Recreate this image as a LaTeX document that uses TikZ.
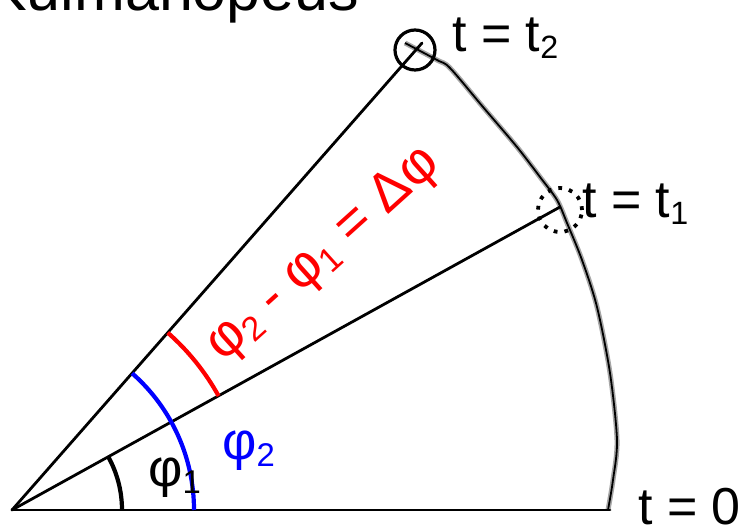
\documentclass[tikz,border=0pt]{standalone}
\usepackage{fontspec}
\setmainfont{Liberation Sans}
\usetikzlibrary{calc}

\newcommand{\lsub}[1]{\raisebox{-0.12em}{\scalebox{0.62}{#1}}}

\begin{document}
\begin{tikzpicture}[x=1pt,y=1pt,
  ray/.style={line width=2.8pt, line cap=round},
  anglearc/.style={line width=4.2pt},
  rim/.style={line width=1.8pt, preaction={draw, gray!70, line width=5pt}},
  tlabel/.style={font=\fontsize{52}{60}\selectfont, inner sep=0pt, anchor=base west}]
  \useasboundingbox (0,0) rectangle (749,527);
  \clip (0,0) rectangle (749,527);

  % Title (cut at the top)
  \node[font=\fontsize{61}{70}\selectfont, inner sep=0pt, anchor=base west] (title) at (-14,516) {Kulmanopeus};

  % Points
  \def\phione{28.9}
  \def\phitwo{48.7}
  \coordinate (O) at (12,17);
  \coordinate (P0) at (610,17);
  \coordinate (P1) at (560,320);
  \coordinate (P2) at (422,484);

  % Path of the moving point
  \draw[rim] plot[smooth] coordinates {(405,484) (437,467) (450,459) (483,420) (517,380) (540,350)
    (557,327) (567,304) (582,267) (597,220) (610,154) (617,87) (613,47) (608,17)};

  % Rays
  \draw[ray] (O) -- (P0);
  \draw[ray] (O) -- (P1);
  \draw[ray] (O) -- (P2);

  % Angle arcs
  \draw[anglearc] ($(O)+(110,0)$) arc[start angle=0, end angle=\phione, radius=110];
  \draw[anglearc, blue] ($(O)+(182,0)$) arc[start angle=0, end angle=\phitwo, radius=182];
  \draw[anglearc, red] ($(O)+(\phione:236)$) arc[start angle=\phione, end angle=\phitwo, radius=236];

  % Markers
  \node[draw, circle, minimum size=40, line width=3.2pt] (m2) at (415,477) {};
  \node[draw, circle, minimum size=44, line width=3.8pt, dash pattern=on 3.8pt off 7pt] (m1) at (560,317) {};

  % Labels
  \node[tlabel] (t2) at (452,475) {t = t\lsub{2}};
  \node[tlabel] (t1) at (582,309) {t = t\lsub{1}};
  \node[tlabel] (t0) at (638,2) {t = 0};
  \node[font=\fontsize{53}{60}\selectfont, inner sep=0pt, anchor=base west] (phi1) at (148,40) {φ\lsub{1}};
  \node[font=\fontsize{53}{60}\selectfont, inner sep=0pt, anchor=base west, blue] (phi2) at (222,67) {φ\lsub{2}};
  \node[font=\fontsize{55}{64}\selectfont, inner sep=0pt, red, rotate=42] (dphi) at (324,272) {φ\lsub{2} - φ\lsub{1} = Δφ};
\end{tikzpicture}
\end{document}
